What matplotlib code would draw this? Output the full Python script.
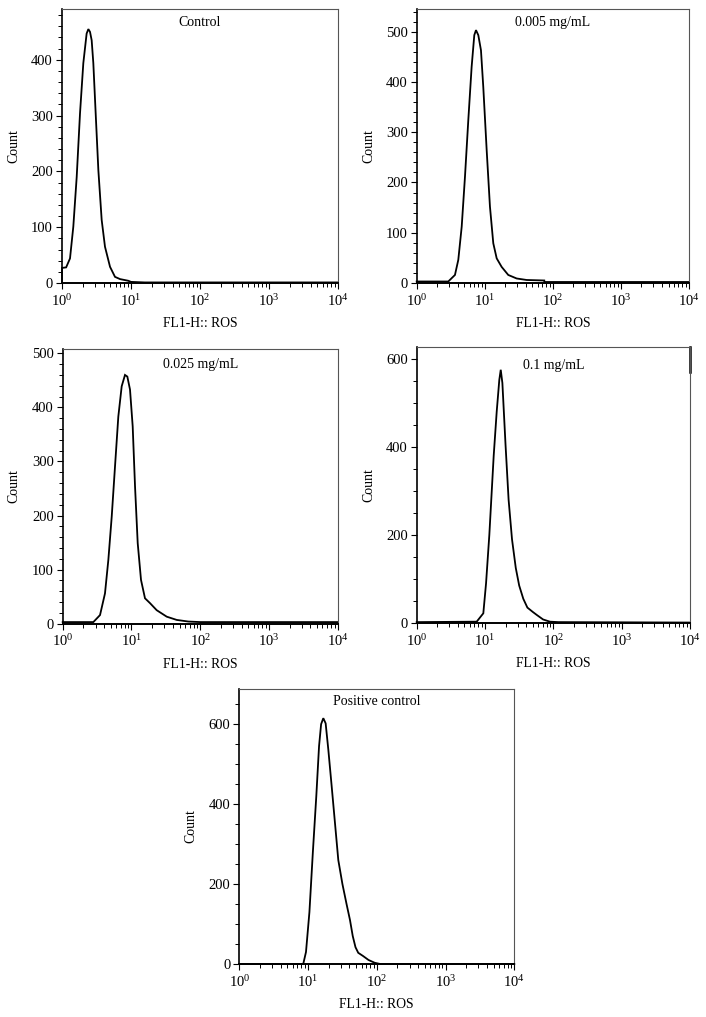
import matplotlib
matplotlib.use('Agg')
import matplotlib.pyplot as plt
import numpy as np
from matplotlib.ticker import MultipleLocator, LogLocator, NullFormatter

plt.rcParams['font.family'] = ['Liberation Serif', 'DejaVu Serif']
plt.rcParams['mathtext.fontset'] = 'custom'
plt.rcParams['mathtext.rm'] = 'Liberation Serif'
plt.rcParams['mathtext.it'] = 'Liberation Serif:italic'

# ---- data (x as log10 of FL1-H intensity, y as counts) ----
control_log = [0.0, 0.0, 0.06, 0.116, 0.164, 0.213, 0.261, 0.309, 0.357, 0.382, 0.406,
               0.430, 0.454, 0.488, 0.527, 0.575, 0.623, 0.696, 0.768, 0.841, 0.961,
               1.0, 1.2, 4.0]
control_cnt = [0, 27, 28, 44, 101, 190, 304, 394, 447, 455, 450,
               435, 394, 304, 202, 113, 65, 29, 11, 7, 4,
               2, 1, 1]

c005_log = [0.0, 0.464, 0.562, 0.611, 0.661, 0.709, 0.758, 0.807, 0.846, 0.871, 0.905,
            0.944, 0.978, 1.028, 1.076, 1.125, 1.175, 1.248, 1.345, 1.468, 1.615,
            1.874, 1.875, 4.0]
c005_cnt = [3, 3, 16, 46, 112, 211, 324, 430, 493, 503, 493,
            463, 390, 264, 152, 79, 49, 32, 16, 9, 6,
            5, 2, 2]

c025_log = [0.0, 0.446, 0.543, 0.615, 0.664, 0.713, 0.761, 0.809, 0.858, 0.906, 0.940,
            0.979, 1.018, 1.052, 1.091, 1.139, 1.197, 1.270, 1.367, 1.513, 1.658,
            1.827, 2.0, 4.0]
c025_cnt = [3, 3, 16, 56, 118, 198, 291, 383, 439, 460, 457,
            433, 365, 254, 149, 81, 47, 38, 25, 13, 7,
            4, 3, 3]

c1_log = [0.0, 0.878, 0.975, 1.015, 1.063, 1.127, 1.171, 1.209, 1.230, 1.254, 1.30,
          1.345, 1.395, 1.45, 1.50, 1.56, 1.62, 1.70, 1.76, 1.85, 1.95,
          2.073, 4.0, 4.0]
c1_cnt = [2, 3, 22, 90, 200, 380, 480, 552, 575, 545, 405,
          280, 190, 125, 85, 55, 35, 25, 18, 8, 3,
          2, 1, 1]
c1_edge_cnt = [570, 626]

pos_log = [0.0, 0.93, 0.97, 1.02, 1.07, 1.12, 1.16, 1.19, 1.222, 1.256, 1.295,
           1.344, 1.392, 1.44, 1.50, 1.56, 1.61, 1.65, 1.69, 1.73, 1.80,
           1.88, 1.97, 2.05, 4.0]
pos_cnt = [0, 0, 30, 130, 280, 420, 545, 600, 615, 602, 536,
           444, 352, 260, 200, 150, 110, 70, 42, 28, 20,
           10, 3, 0, 0]

titles = ['Control', '0.005 mg/mL', '0.025 mg/mL', '0.1 mg/mL', 'Positive control']
xlabel = 'FL1-H:: ROS'
ylabel = 'Count'

W, H = 706, 1017
fig = plt.figure(figsize=(W / 100, H / 100), dpi=100)


def rect(l, t, r, b):
    return [l / W, 1 - b / H, (r - l) / W, (b - t) / H]


def panel(box, xs, ys, title, ymax, major, minor, title_y):
    ax = fig.add_axes(rect(*box))
    ax.plot(np.power(10.0, xs), ys, color='black', lw=1.3, clip_on=False,
            solid_joinstyle='miter')
    ax.set_xscale('log')
    ax.set_xlim(1, 1e4)
    ax.set_ylim(0, ymax)
    ax.yaxis.set_major_locator(MultipleLocator(major))
    ax.yaxis.set_minor_locator(MultipleLocator(minor))
    ax.xaxis.set_major_locator(LogLocator(base=10, numticks=10))
    ax.xaxis.set_minor_locator(LogLocator(base=10, subs=np.arange(2, 10), numticks=10))
    ax.xaxis.set_minor_formatter(NullFormatter())
    ax.spines['left'].set_linewidth(1.2)
    ax.spines['bottom'].set_linewidth(1.4)
    for s in ('top', 'right'):
        ax.spines[s].set_linewidth(0.8)
        ax.spines[s].set_color('#555555')
    ax.tick_params(which='major', direction='out', length=4, width=0.8,
                   pad=2.5, colors='black')
    ax.tick_params(axis='y', which='major', labelsize=10.5)
    ax.tick_params(axis='x', which='major', labelsize=10.5, pad=3)
    ax.tick_params(which='minor', direction='out', length=3, width=0.7)
    ax.text(0.5, title_y, title, transform=ax.transAxes, ha='center', va='center',
            fontsize=10)
    ax.set_ylabel(ylabel, fontsize=10, va='center')
    ax.yaxis.set_label_coords(-0.176, 0.5)
    ax.set_xlabel(xlabel, fontsize=9.8, va='top')
    ax.xaxis.set_label_coords(0.5, -0.125)
    return ax


panel((62, 9, 338, 283), control_log, control_cnt, titles[0], 491, 100, 20, 0.949)
panel((416.7, 9, 689, 283), c005_log, c005_cnt, titles[1], 545, 100, 20, 0.949)
panel((62.7, 349, 337.7, 623.7), c025_log, c025_cnt, titles[2], 508, 100, 20, 0.942)
ax4 = panel((416.7, 347.3, 690, 623), c1_log, c1_cnt, titles[3], 626, 200, 50, 0.935)
ax4.plot([1e4, 1e4], c1_edge_cnt, color='black', lw=1.8, clip_on=False)
panel((239.3, 689, 514.3, 964), pos_log, pos_cnt, titles[4], 688, 200, 50, 0.956)

fig.savefig('out.png', dpi=100)
